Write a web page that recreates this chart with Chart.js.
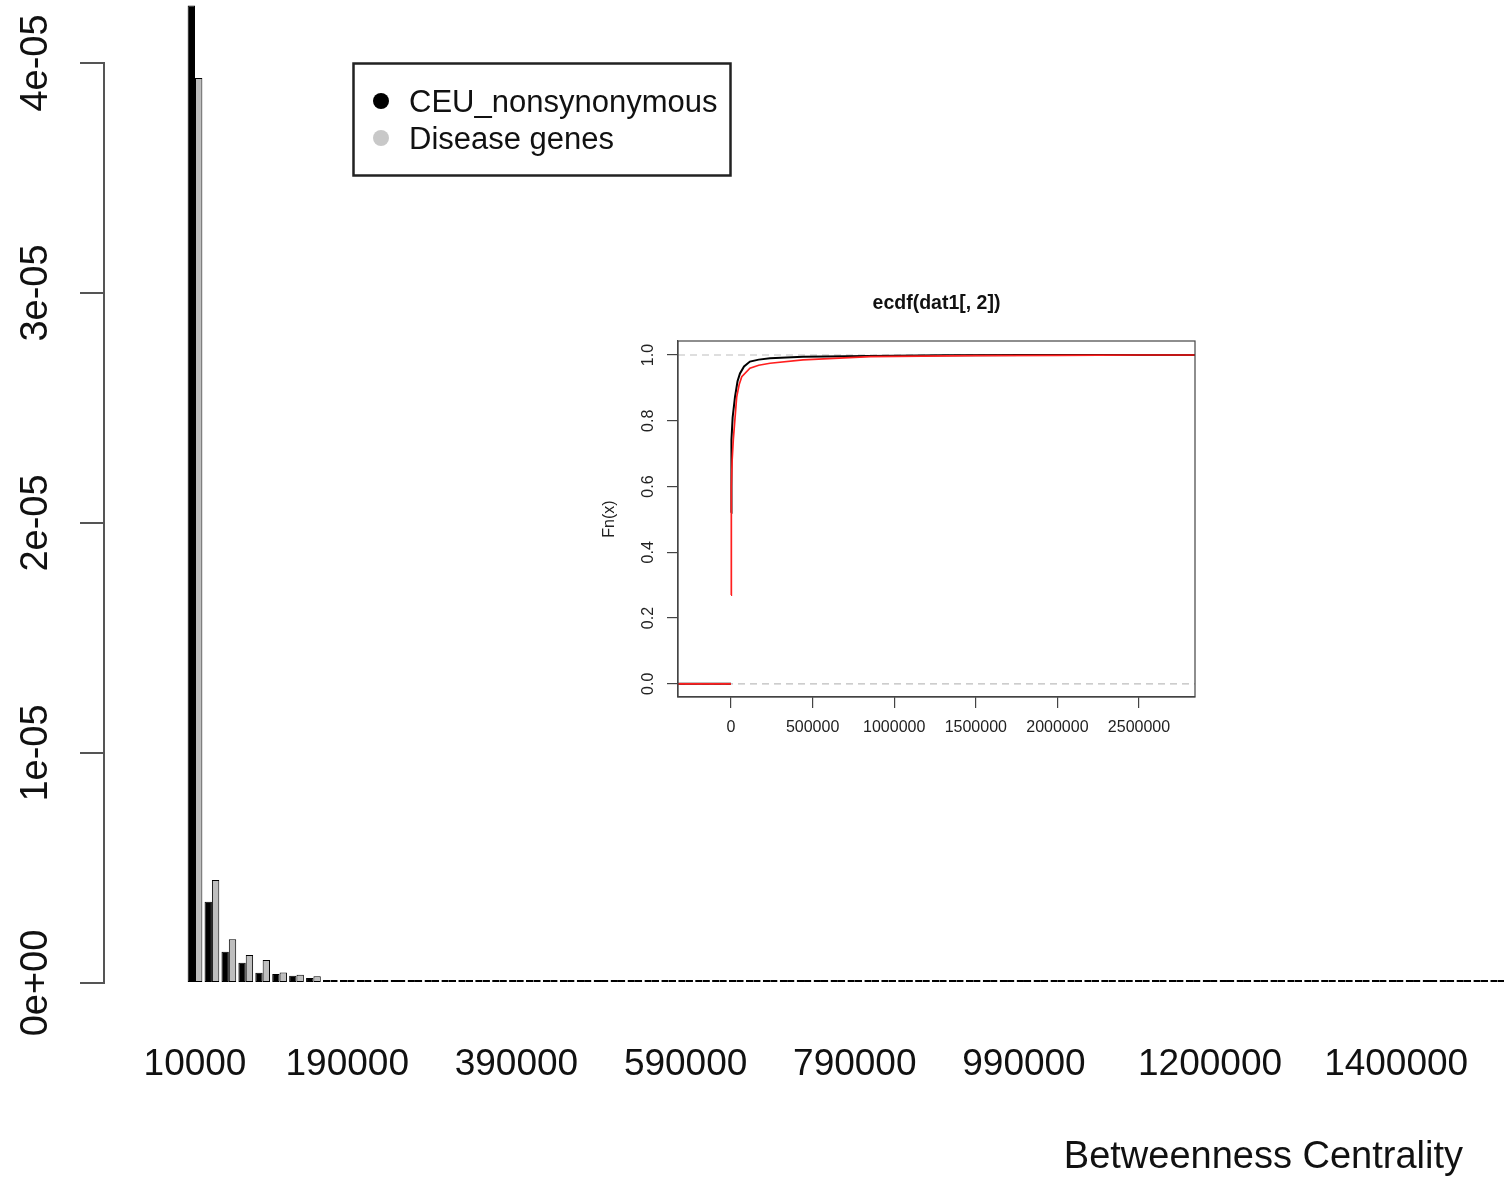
<!DOCTYPE html>
<html>
<head>
<meta charset="utf-8">
<script src="https://cdn.jsdelivr.net/npm/chart.js@4.4.0/dist/chart.umd.min.js"></script>
<style>
  html, body { margin: 0; padding: 0; background: #ffffff; }
  #wrap { position: relative; width: 1504px; height: 1177px; overflow: hidden; }
  #main { position: absolute; left: 0; top: 0; }
  #inset { position: absolute; left: 590px; top: 280px; }
</style>
</head>
<body>
<div id="wrap">
  <canvas id="main" width="1504" height="1177"></canvas>
  <canvas id="inset" width="620" height="465"></canvas>
</div>
<script>
// ---------------- DATA (main histogram) ----------------
const bins = [
  10000, 30000, 50000, 70000, 90000, 110000, 130000, 150000, 170000, 190000,
  210000, 230000, 250000, 270000, 290000, 310000, 330000, 350000, 370000, 390000,
  410000, 430000, 450000, 470000, 490000, 510000, 530000, 550000, 570000, 590000,
  610000, 630000, 650000, 670000, 690000, 710000, 730000, 750000, 770000, 790000,
  810000, 830000, 850000, 870000, 890000, 910000, 930000, 950000, 970000, 990000,
  1010000, 1030000, 1050000, 1070000, 1090000, 1110000, 1130000, 1150000, 1170000, 1190000,
  1210000, 1230000, 1250000, 1270000, 1290000, 1310000, 1330000, 1350000, 1370000, 1390000,
  1410000, 1430000, 1450000, 1470000, 1490000, 1510000, 1530000, 1550000
];
const ceuNonsyn = [
  4.25e-5, 3.53e-6, 1.36e-6, 8.8e-7, 4.5e-7, 3.9e-7, 3.2e-7, 2.2e-7, 6e-8, 4e-8,
  3e-8, 3e-8, 2e-8, 2e-8, 1e-8, 1e-8, 1e-8, 9e-8, 1e-8, 1e-8,
  0, 9e-8, 1e-8, 0, 1e-8, 1e-8, 0, 1e-8, 0, 1e-8,
  0, 0, 1e-8, 0, 1e-8, 0, 0, 1e-8, 0, 0,
  1e-8, 0, 0, 0, 1e-8, 0, 0, 0, 0, 1e-8,
  0, 0, 0, 0, 8e-8, 0, 0, 0, 0, 0,
  0, 1e-8, 0, 0, 0, 0, 0, 0, 0, 0,
  0, 0, 0, 0, 0, 8e-8, 0, 0
];
const diseaseGenes = [
  3.935e-5, 4.48e-6, 1.9e-6, 1.22e-6, 1.0e-6, 4.6e-7, 3.6e-7, 2.9e-7, 5e-8, 9e-8,
  6e-8, 8e-8, 6e-8, 5e-8, 6e-8, 4e-8, 3e-8, 4e-8, 3e-8, 3e-8,
  2e-8, 3e-8, 2e-8, 2e-8, 1e-8, 2e-8, 1e-8, 1e-8, 2e-8, 1e-8,
  1e-8, 1e-8, 0, 1e-8, 0, 1e-8, 1e-8, 0, 0, 1e-8,
  0, 0, 1e-8, 0, 0, 0, 1e-8, 0, 0, 0,
  1e-8, 0, 0, 0, 0, 0, 1e-8, 0, 0, 0,
  0, 0, 0, 0, 1e-8, 0, 0, 0, 0, 0,
  0, 0, 0, 1e-8, 0, 0, 0, 0
];
const seriesLabels = ['CEU_nonsynonymous', 'Disease genes'];
const xTickAt = [10000, 190000, 390000, 590000, 790000, 990000, 1210000, 1430000];
const xTickLabels = ['10000', '190000', '390000', '590000', '790000', '990000', '1200000', '1400000'];
const yTickAt = [0, 1e-5, 2e-5, 3e-5, 4e-5];
const yTickLabels = ['0e+00', '1e-05', '2e-05', '3e-05', '4e-05'];
const xTitle = 'Betweenness Centrality';

// ---------------- DATA (inset ECDF) ----------------
const ecdfTitle = 'ecdf(dat1[, 2])';
const ecdfYTitle = 'Fn(x)';
const ecdfXMin = -324755, ecdfXMax = 2843137;
const ecdfCeuX = [-324755, 0, 0, 0, 1500, 4000, 10000, 24500, 40000, 55000, 80000, 116000, 170000, 239000, 441000, 852000, 1300000, 1800000, 2843137];
const ecdfCeuY = [0, 0, null, 0.52, 0.68, 0.742, 0.81, 0.873, 0.92, 0.944, 0.965, 0.98, 0.986, 0.99, 0.995, 0.997, 0.999, 1.0, 1.0];
const ecdfDisX = [-324755, 0, 0, 0, 1000, 3000, 7000, 14000, 35000, 50000, 66000, 116000, 170000, 239000, 441000, 852000, 1500000, 2000000, 2500000, 2843137];
const ecdfDisY = [0, 0, null, 0.27, 0.45, 0.6, 0.68, 0.742, 0.873, 0.91, 0.934, 0.96, 0.969, 0.975, 0.985, 0.995, 0.998, 0.999, 1.0, 1.0];
const ecdfXTickAt = [0, 500000, 1000000, 1500000, 2000000, 2500000];
const ecdfXTickLabels = ['0', '500000', '1000000', '1500000', '2000000', '2500000'];
const ecdfYTickAt = [0, 0.2, 0.4, 0.6, 0.8, 1.0];
const ecdfYTickLabels = ['0.0', '0.2', '0.4', '0.6', '0.8', '1.0'];
const refLevels = [0, 1];

// ---------------- CHARTS ----------------
const FONT = '"Liberation Sans", Arial, Helvetica, sans-serif';
Chart.defaults.font.family = FONT;
Chart.defaults.color = '#111';

const legendColors = ['#000000', '#c8c8c8'];

const zeroPad = s => { s.paddingLeft = 0; s.paddingRight = 0; s.paddingTop = 0; s.paddingBottom = 0; };

const rDecor = {
  id: 'rDecor',
  afterDraw(chart) {
    const ctx = chart.ctx;
    ctx.save();
    // legend box
    ctx.lineWidth = 2.5;
    ctx.strokeStyle = '#222';
    ctx.strokeRect(353.5, 63.5, 377, 112);
    chart.data.datasets.forEach((ds, i) => {
      const cy = 101 + i * 37;
      ctx.fillStyle = legendColors[i];
      ctx.beginPath();
      ctx.arc(381, cy, 8, 0, Math.PI * 2);
      ctx.fill();
      ctx.fillStyle = '#111';
      ctx.font = '31px ' + FONT;
      ctx.textAlign = 'left';
      ctx.textBaseline = 'middle';
      ctx.fillText(ds.label, 409, cy + 2);
    });
    // x axis title
    ctx.font = '38px ' + FONT;
    ctx.fillStyle = '#111';
    ctx.textAlign = 'right';
    ctx.textBaseline = 'middle';
    ctx.fillText(xTitle, 1463, 1158);
    ctx.restore();
  }
};

new Chart(document.getElementById('main'), {
  type: 'bar',
  data: {
    datasets: [
      {
        label: seriesLabels[0],
        data: bins.map((b, i) => ({ x: b, y: ceuNonsyn[i] })),
        backgroundColor: '#000000', borderColor: '#000000', borderWidth: 1,
        borderSkipped: false, clip: false, minBarLength: 3,
        categoryPercentage: 0.87, barPercentage: 1.0
      },
      {
        label: seriesLabels[1],
        data: bins.map((b, i) => ({ x: b, y: diseaseGenes[i] })),
        backgroundColor: '#bebebe', borderColor: '#000000', borderWidth: 1,
        borderSkipped: false, clip: false, minBarLength: 3,
        categoryPercentage: 0.87, barPercentage: 1.0
      }
    ]
  },
  options: {
    responsive: false, animation: false, devicePixelRatio: 1,
    layout: { padding: { top: 63, left: 0, right: 0, bottom: 0 } },
    plugins: { legend: { display: false }, tooltip: { enabled: false }, title: { display: false } },
    scales: {
      x: {
        type: 'linear', min: -97580, max: 1557500, offset: false,
        grid: { display: false, offset: false }, border: { display: false },
        afterBuildTicks: s => { s.ticks = xTickAt.map(v => ({ value: v })); },
        ticks: {
          autoSkip: false, maxRotation: 0, minRotation: 0, padding: 52,
          font: { size: 37 }, color: '#111',
          callback: (v, i) => xTickLabels[i]
        },
        afterFit: s => { s.height = 194; zeroPad(s); }
      },
      y: {
        min: 0, max: 4e-5,
        afterBuildTicks: s => { s.ticks = yTickAt.map(v => ({ value: v })); },
        grid: { drawOnChartArea: false, drawTicks: true, tickLength: 24, color: '#555', lineWidth: 2 },
        border: { display: true, color: '#555', width: 2 },
        ticks: {
          minRotation: 90, maxRotation: 90, crossAlign: 'center', padding: -10,
          font: { size: 38 }, color: '#111',
          callback: (v, i) => yTickLabels[i]
        },
        afterFit: s => { s.width = 104; zeroPad(s); }
      }
    }
  },
  plugins: [rDecor]
});

const boxPlugin = {
  id: 'boxPlugin',
  afterDatasetsDraw(chart) {
    const { ctx, chartArea: a } = chart;
    ctx.save();
    ctx.strokeStyle = '#444';
    ctx.lineWidth = 1.2;
    ctx.strokeRect(a.left, a.top, a.right - a.left, a.bottom - a.top);
    ctx.restore();
  }
};

const pts = (xs, ys) => xs.map((x, i) => ({ x: x, y: ys[i] }));

new Chart(document.getElementById('inset'), {
  type: 'line',
  data: {
    datasets: [
      { label: seriesLabels[1], data: pts(ecdfDisX, ecdfDisY), borderColor: '#ff1f1f', borderWidth: 1.7,
        pointRadius: 0, tension: 0, spanGaps: false, order: 0 },
      { label: seriesLabels[0], data: pts(ecdfCeuX, ecdfCeuY), borderColor: '#000000', borderWidth: 2,
        pointRadius: 0, tension: 0, spanGaps: false, order: 1 },
      { label: 'ref0', data: [{ x: ecdfXMin, y: refLevels[0] }, { x: ecdfXMax, y: refLevels[0] }],
        borderColor: '#bdbdbd', borderDash: [7, 5], borderWidth: 1.2, pointRadius: 0, order: 2 },
      { label: 'ref1', data: [{ x: ecdfXMin, y: refLevels[1] }, { x: ecdfXMax, y: refLevels[1] }],
        borderColor: '#bdbdbd', borderDash: [7, 5], borderWidth: 1.2, pointRadius: 0, order: 2 }
    ]
  },
  options: {
    responsive: false, animation: false, devicePixelRatio: 1,
    layout: { padding: { top: 0, right: 15, bottom: 0, left: 0 } },
    plugins: {
      legend: { display: false }, tooltip: { enabled: false },
      title: { display: true, text: ecdfTitle, fullSize: false, color: '#111',
        font: { size: 19.5, weight: 'bold' }, padding: { top: 11.5, bottom: 26.1 } }
    },
    scales: {
      x: {
        type: 'linear', min: ecdfXMin, max: ecdfXMax, offset: false,
        afterBuildTicks: s => { s.ticks = ecdfXTickAt.map(v => ({ value: v })); },
        grid: { drawOnChartArea: false, drawTicks: true, tickLength: 11, color: '#444', lineWidth: 1.2 },
        border: { display: true, color: '#444', width: 1.2 },
        ticks: { autoSkip: false, maxRotation: 0, minRotation: 0, padding: 10.4, font: { size: 16 }, color: '#222',
          callback: (v, i) => ecdfXTickLabels[i] },
        afterFit: s => { s.height = 48; zeroPad(s); }
      },
      y: {
        min: -0.04, max: 1.0426,
        afterBuildTicks: s => { s.ticks = ecdfYTickAt.map(v => ({ value: v })); },
        grid: { drawOnChartArea: false, drawTicks: true, tickLength: 11, color: '#444', lineWidth: 1.2 },
        border: { display: true, color: '#444', width: 1.2 },
        ticks: { minRotation: 90, maxRotation: 90, crossAlign: 'center', padding: 7, font: { size: 16 }, color: '#222',
          callback: (v, i) => ecdfYTickLabels[i] },
        title: { display: true, text: ecdfYTitle, font: { size: 16 }, color: '#222', padding: { top: 10.4, bottom: 0 } },
        afterFit: s => { s.width = 88; zeroPad(s); }
      }
    }
  },
  plugins: [boxPlugin]
});
</script>
</body>
</html>
